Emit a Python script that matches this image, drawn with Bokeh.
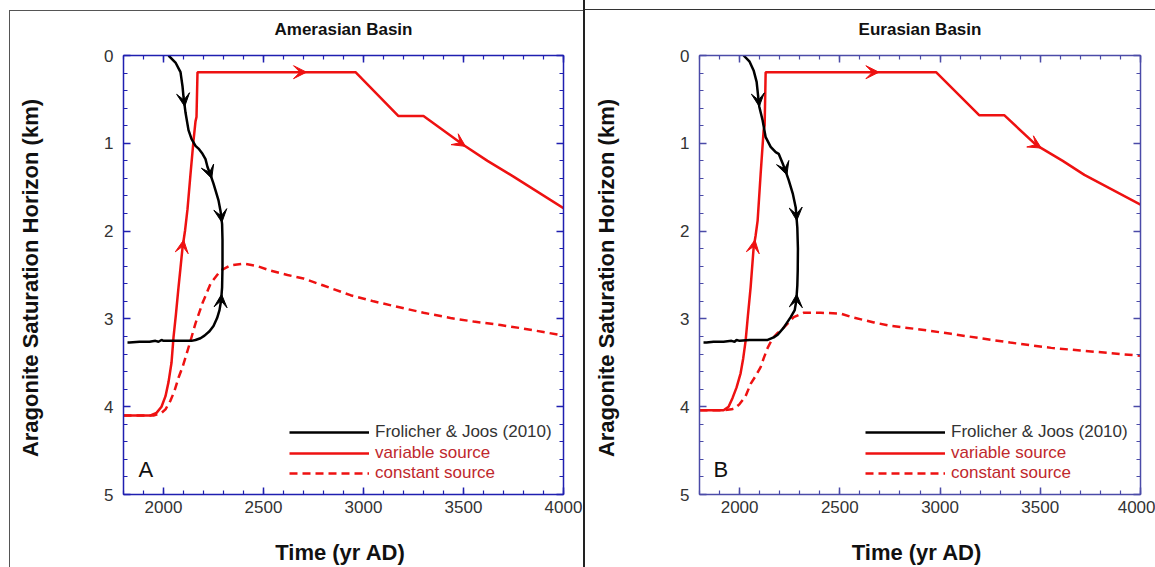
from bokeh.plotting import figure
from bokeh.models import (Range1d, LinearAxis, SingleIntervalTicker, Legend, LegendItem,
                          Arrow, VeeHead, Label, CustomJSTickFormatter)
from bokeh.layouts import row
from bokeh.embed import file_html
from bokeh.resources import INLINE

# ---------------- data (year AD, depth km) ----------------
titles = ["Amerasian Basin", "Eurasian Basin"]
letters = ["A", "B"]
x_ticks_interval = 500
series_labels = ["Frolicher & Joos (2010)", "variable source", "constant source"]

# Amerasian Basin
fj_x_A = [2025, 2060, 2085, 2095, 2100, 2110, 2125, 2140, 2160, 2175, 2195, 2210, 2220, 2235, 2250,
          2262, 2275, 2285, 2293, 2295, 2295, 2293, 2288, 2280, 2268, 2250, 2230, 2205, 2185, 2160,
          2140, 2100, 2050, 2000, 1990, 1975, 1960, 1930, 1880, 1830, 1820]
fj_y_A = [0.00, 0.08, 0.19, 0.35, 0.47, 0.65, 0.85, 0.95, 1.03, 1.06, 1.12, 1.18, 1.27, 1.36, 1.46,
          1.55, 1.65, 1.77, 1.92, 2.10, 2.40, 2.64, 2.79, 2.90, 2.99, 3.08, 3.14, 3.19, 3.22, 3.24,
          3.25, 3.25, 3.25, 3.25, 3.24, 3.26, 3.25, 3.26, 3.26, 3.27, 3.27]
var_x_A = [1800, 1935, 1965, 1990, 2010, 2025, 2040, 2050, 2062, 2075, 2085, 2095, 2108, 2120, 2135,
           2150, 2160, 2165, 2170, 2960, 3175, 3300, 3500, 3620, 3750, 4000]
var_y_A = [4.10, 4.10, 4.07, 4.00, 3.88, 3.72, 3.50, 3.21, 2.95, 2.64, 2.42, 2.19, 1.99, 1.75, 1.35,
           0.97, 0.75, 0.70, 0.19, 0.19, 0.69, 0.69, 1.02, 1.20, 1.38, 1.74]
con_x_A = [1800, 1950, 1990, 2010, 2035, 2055, 2075, 2095, 2110, 2135, 2160, 2195, 2235, 2285, 2335,
           2400, 2470, 2535, 2620, 2700, 2800, 2935, 3050, 3185, 3300, 3435, 3550, 3685, 3800, 3900, 4000]
con_y_A = [4.10, 4.10, 4.07, 4.03, 3.93, 3.82, 3.67, 3.55, 3.44, 3.25, 3.05, 2.82, 2.60, 2.45, 2.39,
           2.37, 2.40, 2.45, 2.50, 2.54, 2.62, 2.73, 2.80, 2.87, 2.93, 2.99, 3.03, 3.07, 3.11, 3.15, 3.19]

# Eurasian Basin
fj_x_B = [2020, 2050, 2070, 2085, 2092, 2098, 2115, 2130, 2155, 2180, 2195, 2215, 2230, 2245, 2265,
          2280, 2288, 2291, 2290, 2288, 2283, 2275, 2255, 2220, 2190, 2170, 2140, 2100, 2050, 2000,
          1985, 1975, 1960, 1920, 1870, 1835, 1820]
fj_y_B = [0.00, 0.07, 0.17, 0.30, 0.45, 0.58, 0.74, 0.93, 1.04, 1.10, 1.12, 1.23, 1.32, 1.42, 1.57,
          1.73, 1.96, 2.20, 2.45, 2.62, 2.79, 2.90, 2.98, 3.10, 3.18, 3.21, 3.24, 3.24, 3.24, 3.25,
          3.24, 3.26, 3.25, 3.26, 3.26, 3.27, 3.27]
var_x_B = [1800, 1920, 1945, 1965, 1985, 2005, 2018, 2030, 2042, 2055, 2070, 2080, 2090, 2105, 2120,
           2125, 2130, 2980, 3195, 3320, 3480, 3612, 3720, 4000]
var_y_B = [4.04, 4.04, 4.00, 3.90, 3.78, 3.62, 3.45, 3.25, 2.95, 2.64, 2.19, 2.05, 1.88, 1.35, 0.85,
           0.80, 0.19, 0.19, 0.68, 0.68, 1.02, 1.20, 1.36, 1.70]
con_x_B = [1800, 1920, 1960, 1975, 2000, 2030, 2055, 2080, 2105, 2120, 2140, 2165, 2190, 2220, 2270,
           2320, 2405, 2505, 2560, 2670, 2755, 2900, 3055, 3200, 3350, 3555, 3700, 3850, 4000]
con_y_B = [4.04, 4.04, 4.03, 4.02, 3.97, 3.88, 3.74, 3.65, 3.55, 3.45, 3.33, 3.22, 3.16, 3.10, 2.98,
           2.93, 2.93, 2.94, 2.98, 3.04, 3.08, 3.12, 3.17, 3.22, 3.27, 3.33, 3.36, 3.39, 3.42]

# arrow heads: (which coordinate, value at tip, direction along list order)
fj_arrows_A = [("y", 0.58, 1), ("y", 1.40, 1), ("y", 1.90, 1), ("y", 2.72, -1)]
var_arrows_A = [("y", 2.10, 1), ("x", 2715, 1), ("x", 3510, 1)]
fj_arrows_B = [("y", 0.58, 1), ("y", 1.36, 1), ("y", 1.88, 1), ("y", 2.72, -1)]
var_arrows_B = [("y", 2.10, 1), ("x", 2695, 1), ("x", 3505, 1)]

FONT = "Liberation Sans"
RED = "#ee1111"
RED_TEXT = "#c0282d"


def arrow_at(xs, ys, key, val, direction):
    coords = ys if key == "y" else xs
    for i in range(len(xs) - 1):
        a, b = coords[i], coords[i + 1]
        if a != b and (a - val) * (b - val) <= 0:
            t = (val - a) / (b - a)
            x = xs[i] + t * (xs[i + 1] - xs[i])
            y = ys[i] + t * (ys[i + 1] - ys[i])
            dx = (xs[i + 1] - xs[i]) * direction
            dy = (ys[i + 1] - ys[i]) * direction
            return x, y, dx, dy
    return None


def style_axis(ax, color, labels=True):
    ax.axis_line_color = color
    ax.axis_line_width = 1.5
    ax.major_tick_line_color = color
    ax.minor_tick_line_color = color
    ax.major_tick_line_width = 1.5
    ax.minor_tick_line_width = 1.2
    ax.major_tick_in = 7
    ax.major_tick_out = 0
    ax.minor_tick_in = 4
    ax.minor_tick_out = 0
    ax.major_label_text_font = FONT
    ax.major_label_text_color = "#333333"
    ax.major_label_text_font_size = "17px"
    if not labels:
        ax.formatter = CustomJSTickFormatter(code="return '';")
        ax.major_label_standoff = 0
    ax.axis_label_text_font = FONT
    ax.axis_label_text_font_style = "bold"
    ax.axis_label_text_font_size = "22px"
    ax.axis_label_text_color = "#111111"


def make_panel(title, letter, fx, fy, vx, vy, cx, cy, farrows, varrows, axis_color,
               width, border_left, border_right, shadow, letter_x):
    p = figure(width=width, height=567, x_range=Range1d(1800, 4000), y_range=Range1d(5, 0),
               output_backend="svg", toolbar_location=None, x_axis_type=None, y_axis_type=None,
               min_border_left=border_left, min_border_right=border_right, min_border_top=55,
               min_border_bottom=73)
    p.grid.visible = False
    p.outline_line_color = None
    p.border_fill_alpha = 0
    p.background_fill_color = "white"
    p.styles = {"box-shadow": shadow}

    xt = lambda: SingleIntervalTicker(interval=x_ticks_interval, num_minor_ticks=5)
    yt = lambda: SingleIntervalTicker(interval=1, num_minor_ticks=5)
    bottom = LinearAxis(ticker=xt(), axis_label="Time  (yr AD)")
    top = LinearAxis(ticker=xt())
    left = LinearAxis(ticker=yt(), axis_label="Aragonite Saturation Horizon  (km)")
    right = LinearAxis(ticker=yt())
    style_axis(bottom, axis_color)
    style_axis(left, axis_color)
    style_axis(top, axis_color, labels=False)
    style_axis(right, axis_color, labels=False)
    bottom.major_label_standoff = 6
    bottom.axis_label_standoff = 24
    left.major_label_standoff = 10
    left.axis_label_standoff = 58
    p.add_layout(bottom, "below")
    p.add_layout(left, "left")
    p.add_layout(top, "above")
    p.add_layout(right, "right")

    p.title.text = title
    p.title.align = "center"
    p.title.text_font = FONT
    p.title.text_font_size = "17px"
    p.title.text_font_style = "bold"
    p.title.text_color = "#111111"
    p.title.standoff = 33

    rc = p.line(cx, cy, line_color=RED, line_width=2.5, line_dash="8 5")
    rv = p.line(vx, vy, line_color=RED, line_width=2.5)
    rf = p.line(fx, fy, line_color="black", line_width=2.5)

    for xs, ys, specs, col in [(fx, fy, farrows, "black"), (vx, vy, varrows, RED)]:
        for key, val, d in specs:
            res = arrow_at(xs, ys, key, val, d)
            if res is None:
                continue
            x, y, dx, dy = res
            head = VeeHead(size=13, fill_color=col, line_color=col, line_width=1)
            p.add_layout(Arrow(end=head, x_start=x - dx * 0.05, y_start=y - dy * 0.05,
                               x_end=x, y_end=y, line_alpha=0, line_width=0))

    common = dict(glyph_width=80, glyph_height=20, label_height=20, label_width=10,
                  spacing=0, padding=0, margin=0, label_standoff=6,
                  label_text_font=FONT, label_text_font_size="17px",
                  border_line_alpha=0, background_fill_alpha=0)
    leg_black = Legend(items=[LegendItem(label=series_labels[0], renderers=[rf])],
                       location=(166, 52), label_text_color="#333333", **common)
    leg_red = Legend(items=[LegendItem(label=series_labels[1], renderers=[rv]),
                            LegendItem(label=series_labels[2], renderers=[rc])],
                     location=(166, 11), label_text_color=RED_TEXT, **common)
    p.add_layout(leg_black)
    p.add_layout(leg_red)

    p.add_layout(Label(x=letter_x, y=4.71, text=letter, text_font=FONT, text_font_size="22px",
                       text_color="#111111", text_baseline="alphabetic"))
    return p


pA = make_panel(titles[0], letters[0], fj_x_A, fj_y_A, var_x_A, var_y_A, con_x_A, con_y_A,
                fj_arrows_A, var_arrows_A, "#1f1fb0", 584, 123, 21,
                "inset -1px 0 0 #222, inset 9px 10px 0 #fff, inset 10px 11px 0 #555", 1875)
pB = make_panel(titles[1], letters[1], fj_x_B, fj_y_B, var_x_B, var_y_B, con_x_B, con_y_B,
                fj_arrows_B, var_arrows_B, "#4b4ba8", 571, 115, 15,
                "inset 1px 0 0 #222, inset 0 9px 0 #fff, inset 0 10px 0 #333", 1870)

layout = row(pA, pB, spacing=0)
open("out.html", "w").write(file_html(layout, INLINE))
